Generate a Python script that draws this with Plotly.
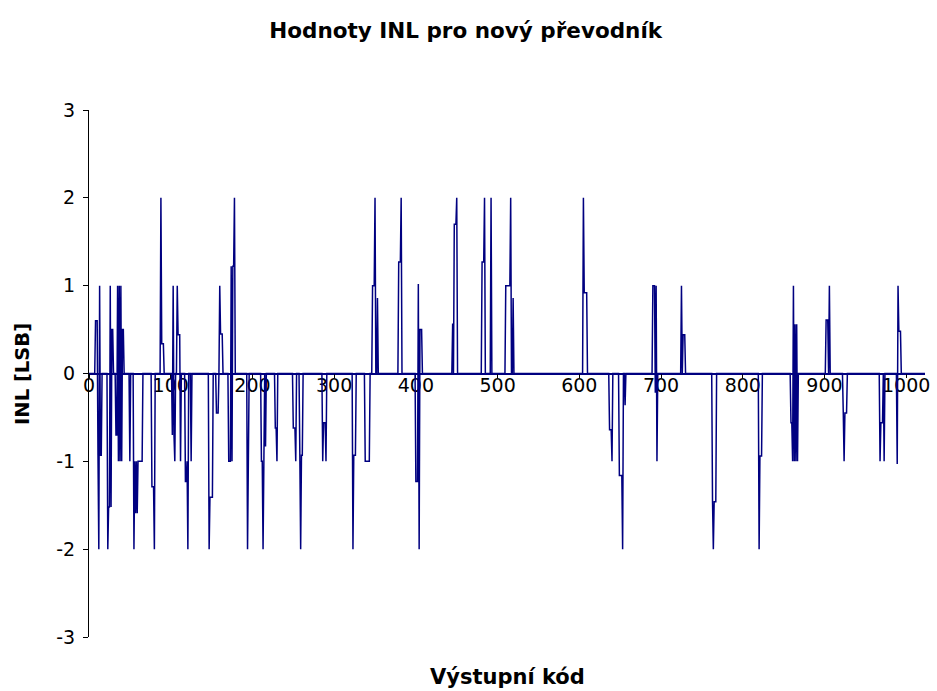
import numpy as np
import plotly.graph_objects as go

# Output codes 0..1023; INL is 0 except at the codes listed below
n_codes = 1024
spike_codes = [
    8, 9, 10, 11, 12, 13, 14, 15,
    23, 24, 25, 26, 27, 28, 29,
    33, 34, 35, 36, 37, 38, 39, 40, 41, 42,
    50,
    55, 56, 57, 58, 59, 60, 61, 62, 63, 64, 65,
    77, 78, 79, 80,
    88, 89, 90, 91,
    102, 103, 104, 105, 108, 109, 110, 111, 112,
    118, 119, 120, 121, 125,
    147, 148, 149, 150, 151,
    156, 157, 158, 160, 161, 162, 163,
    171, 172, 173, 174, 175, 176, 177, 178,
    194, 195,
    211, 212, 213, 214, 216,
    228, 229, 230,
    250, 251, 252, 253,
    258, 259, 260, 261,
    286, 287, 288, 289, 290,
    323, 324, 325, 326,
    338, 339, 340, 341, 342, 343,
    347, 348, 349, 350, 353,
    379, 380, 381, 382,
    400, 401, 402, 403, 404, 405, 406, 407,
    445, 447, 448, 449, 450,
    481, 482, 483, 484, 492,
    510, 511, 512, 513, 514, 515, 516, 519,
    605, 606, 607, 608, 609,
    637, 638, 639, 640,
    649, 650, 651, 652, 653, 656,
    690, 691, 692, 693, 694, 695,
    725, 727, 728, 729,
    763, 764, 765, 766, 767,
    820, 821, 822, 823,
    859, 860, 861, 862, 863, 864, 865, 866, 867,
    902, 903, 904, 906,
    923, 924, 925, 926, 927,
    968, 969, 970, 971, 973,
    989, 990, 991, 992, 993,
]
spike_values = [
    0.6, 0.6, 0.6, -0.93, -2.0, 1.0, -0.93, -0.93,
    -2.0, -1.52, -1.52, 1.0, -1.52, 0.5, 0.5,
    -0.7, -0.7, 1.0, -1.0, 1.0, -1.0, 1.0, -1.0, 0.5, 0.5,
    -1.0,
    -2.0, -1.0, -1.59, -1.0, -1.59, -1.0, -1.0, -1.0, -1.0, -1.0, -1.0,
    -1.29, -1.29, -1.29, -2.0,
    2.0, 0.34, 0.34, 0.34,
    -0.7, 1.0, -0.7, -1.0, 1.0, 0.44, 0.44, 0.44, -1.0,
    -1.23, -1.23, -1.0, -2.0, -1.0,
    -2.0, -1.41, -1.41, -1.41, -1.41,
    -0.45, -0.45, -0.45, 1.0, 0.45, 0.45, 0.45,
    -1.0, -1.0, -1.0, 1.22, -1.0, 1.22, 1.22, 2.0,
    -2.0, -0.5,
    -1.0, -1.0, -2.0, -1.0, -0.83,
    -0.62, -0.62, -1.0,
    -0.62, -0.62, -0.62, -1.0,
    -0.93, -2.0, -0.93, -0.93,
    -1.0, -0.56, -0.56, -0.56, -1.0,
    -2.0, -0.93, -0.93, -0.93,
    -1.0, -1.0, -1.0, -1.0, -1.0, -1.0,
    1.0, 1.0, 1.0, 2.0, 0.86,
    1.27, 1.27, 1.27, 2.0,
    -1.23, -1.23, -1.23, 1.02, -2.0, 0.5, 0.5, 0.5,
    0.57, 1.7, 1.7, 1.7, 2.0,
    1.27, 1.27, 1.27, 2.0, 2.0,
    1.0, 1.0, 1.0, 1.0, 1.0, 1.0, 2.0, 0.86,
    2.0, 0.92, 0.92, 0.92, 0.92,
    -0.64, -0.64, -0.64, -1.0,
    -1.16, -1.16, -1.16, -1.16, -2.0, -0.36,
    1.0, 1.0, 1.0, -0.22, 1.0, -1.0,
    1.0, 0.44, 0.44, 0.44,
    -1.46, -2.0, -1.46, -1.46, -1.46,
    -2.0, -0.94, -0.94, -0.94,
    -0.56, -0.56, -1.0, 1.0, -1.0, 0.56, -1.0, 0.56, -1.0,
    0.61, 0.61, 0.61, 1.0,
    -0.45, -1.0, -0.45, -0.45, -0.45,
    -1.0, -0.56, -0.56, -0.56, -1.0,
    -1.03, 1.0, 0.48, 0.48, 0.48,
]
x_ticks = [0, 100, 200, 300, 400, 500, 600, 700, 800, 900, 1000]
y_ticks = [-3, -2, -1, 0, 1, 2, 3]

codes = np.arange(n_codes)
inl = np.zeros(n_codes)
inl[spike_codes] = spike_values

font_family = "DejaVu Sans, Verdana, sans-serif"

fig = go.Figure()
fig.add_trace(go.Scatter(
    x=codes, y=inl, mode="lines",
    line=dict(color="#000080", width=1.5),
    showlegend=False, hoverinfo="skip",
))

fig.update_layout(
    width=937, height=691,
    margin=dict(l=89, r=7, t=110, b=54),
    paper_bgcolor="white", plot_bgcolor="white",
    font=dict(family=font_family, color="black", size=19),
    title=dict(
        text="<b>Hodnoty INL pro nový převodník</b>",
        x=0.497, xanchor="center", y=1 - 30 / 691, yanchor="middle",
        font=dict(size=21.5, family=font_family, color="black"),
    ),
    xaxis=dict(
        range=[0, 1023],
        tickvals=x_ticks, ticktext=[str(v) for v in x_ticks],
        showgrid=False, zeroline=False,
        showline=True, linecolor="#000080", linewidth=1.5,
        ticks="outside", ticklen=4, tickcolor="black", tickwidth=1,
        anchor="free", position=0.5,
        layer="below traces",
        ticklabelstandoff=-9,
        tickfont=dict(size=19, family=font_family, color="black"),
    ),
    yaxis=dict(
        range=[-3, 3],
        tickvals=y_ticks, ticktext=[str(v) for v in y_ticks],
        showgrid=False, zeroline=False,
        showline=True, linecolor="black", linewidth=1,
        ticks="outside", ticklen=5, tickcolor="black", tickwidth=1,
        ticklabelstandoff=4,
        tickfont=dict(size=19, family=font_family, color="black"),
        domain=[0, 1],
    ),
    annotations=[
        dict(text="<b>INL [LSB]</b>", xref="paper", yref="paper",
             x=-67 / 841, y=0.5, xanchor="center", yanchor="middle",
             textangle=-90, showarrow=False,
             font=dict(size=19.5, family=font_family, color="black")),
        dict(text="<b>Výstupní kód</b>", xref="paper", yref="paper",
             x=0.5, y=-40 / 527, xanchor="center", yanchor="middle",
             showarrow=False,
             font=dict(size=21, family=font_family, color="black")),
    ],
)

fig.write_html("out.html")
